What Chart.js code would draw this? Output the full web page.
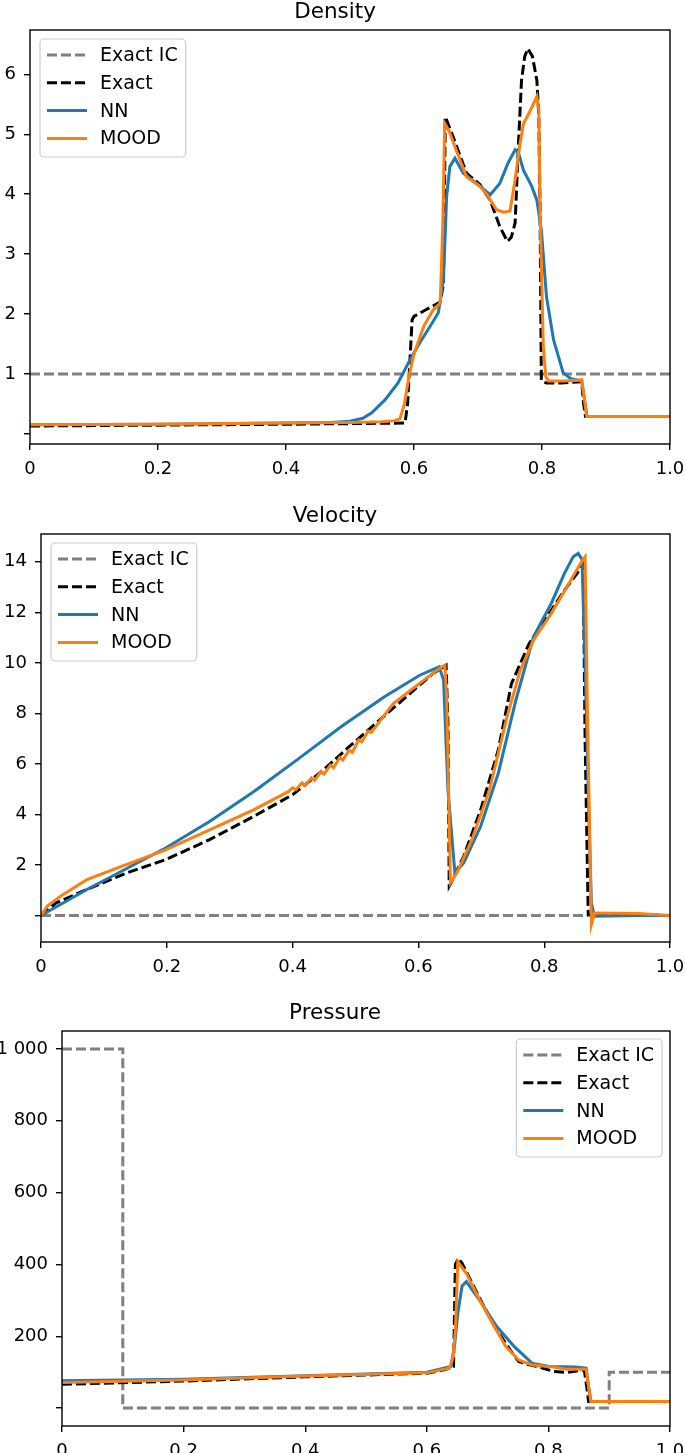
<!DOCTYPE html>
<html><head><meta charset="utf-8">
<script src="https://cdn.jsdelivr.net/npm/chart.js@4.4.0/dist/chart.umd.min.js"></script>
<style>
html,body{margin:0;padding:0;background:#fff;overflow:hidden;width:685px;height:1453px;position:relative;}
canvas{position:absolute;left:0;}
</style></head><body>
<canvas id="c1" width="685" height="480" style="top:0px"></canvas>
<canvas id="c2" width="685" height="488" style="top:490px"></canvas>
<canvas id="c3" width="685" height="482" style="top:980px"></canvas>
<script>
// ---------- shared axis ticks ----------
const xTicks = [0, 0.2, 0.4, 0.6, 0.8, 1.0];
const xTickLabels = ['0', '0.2', '0.4', '0.6', '0.8', '1.0'];
const seriesLabels = ['Exact IC', 'Exact', 'NN', 'MOOD'];

// ---------- Density ----------
const densityTicks = [0, 1, 2, 3, 4, 5, 6];
const densityTickLabels = ['', '1', '2', '3', '4', '5', '6'];
const densityICx = [0, 1];
const densityICy = [1, 1];
const densityExactX = [0, 0.2, 0.4, 0.5, 0.586, 0.59, 0.597, 0.6, 0.62, 0.641, 0.646, 0.649, 0.661, 0.682, 0.703, 0.719, 0.734, 0.746, 0.752, 0.758, 0.763, 0.768, 0.773, 0.778, 0.785, 0.792, 0.795, 0.797, 0.799, 0.803, 0.807, 0.83, 0.862, 0.865, 0.868, 0.9, 1.0];
const densityExactY = [0.13, 0.145, 0.16, 0.17, 0.18, 0.5, 1.9, 1.96, 2.08, 2.2, 2.5, 5.29, 4.96, 4.35, 4.16, 3.9, 3.46, 3.21, 3.28, 3.52, 4.79, 5.9, 6.3, 6.43, 6.3, 5.9, 5.3, 3.68, 0.9, 0.86, 0.85, 0.85, 0.87, 0.5, 0.29, 0.29, 0.29];
const densityMoodX = [0, 0.2, 0.4, 0.5, 0.55, 0.57, 0.578, 0.585, 0.592, 0.599, 0.607, 0.615, 0.63, 0.641, 0.645, 0.648, 0.655, 0.664, 0.682, 0.703, 0.714, 0.729, 0.74, 0.75, 0.758, 0.765, 0.771, 0.781, 0.792, 0.795, 0.797, 0.802, 0.806, 0.81, 0.835, 0.862, 0.866, 0.87, 0.9, 1.0];
const densityMoodY = [0.15, 0.16, 0.18, 0.19, 0.2, 0.22, 0.25, 0.5, 0.95, 1.29, 1.55, 1.79, 2.07, 2.18, 3.5, 5.18, 5.05, 4.79, 4.29, 4.13, 3.99, 3.74, 3.7, 3.72, 4.24, 4.8, 5.18, 5.38, 5.63, 5.4, 3.69, 1.46, 0.95, 0.88, 0.88, 0.9, 0.6, 0.29, 0.29, 0.29];
const densityNNx = [0, 0.2, 0.4, 0.47, 0.5, 0.52, 0.534, 0.555, 0.575, 0.594, 0.609, 0.625, 0.638, 0.646, 0.651, 0.656, 0.664, 0.677, 0.698, 0.719, 0.734, 0.747, 0.758, 0.763, 0.771, 0.784, 0.792, 0.799, 0.807, 0.818, 0.833, 0.845, 0.862, 0.866, 0.87, 0.9, 1.0];
const densityNNy = [0.15, 0.16, 0.18, 0.19, 0.21, 0.26, 0.35, 0.57, 0.85, 1.24, 1.52, 1.79, 2.02, 2.57, 3.96, 4.46, 4.6, 4.35, 4.18, 3.99, 4.18, 4.52, 4.74, 4.7, 4.4, 4.13, 3.9, 3.4, 2.29, 1.57, 1.02, 0.92, 0.88, 0.6, 0.29, 0.29, 0.29];

// ---------- Velocity ----------
const velocityTicks = [0, 2, 4, 6, 8, 10, 12, 14];
const velocityTickLabels = ['', '2', '4', '6', '8', '10', '12', '14'];
const velocityICx = [0, 1];
const velocityICy = [0, 0];
const velocityExactX = [0, 0.024, 0.073, 0.136, 0.198, 0.268, 0.338, 0.4, 0.449, 0.49, 0.532, 0.581, 0.623, 0.638, 0.644, 0.647, 0.649, 0.652, 0.672, 0.699, 0.727, 0.748, 0.762, 0.776, 0.804, 0.832, 0.852, 0.859, 0.862, 0.865, 0.87, 0.9, 1.0];
const velocityExactY = [0, 0.5, 1.03, 1.68, 2.21, 3.0, 3.92, 4.78, 5.76, 6.68, 7.6, 8.66, 9.58, 9.8, 9.9, 7.6, 1.16, 1.3, 2.34, 4.18, 6.55, 9.18, 9.97, 10.76, 11.8, 12.87, 13.53, 13.8, 13.9, 7, 0.04, 0.02, 0];
const velocityMoodX = [0, 0.01, 0.031, 0.073, 0.129, 0.198, 0.268, 0.338, 0.393, 0.4, 0.405, 0.415, 0.42, 0.43, 0.435, 0.445, 0.45, 0.46, 0.465, 0.475, 0.48, 0.49, 0.495, 0.505, 0.51, 0.52, 0.525, 0.56, 0.609, 0.637, 0.642, 0.645, 0.651, 0.661, 0.685, 0.713, 0.741, 0.762, 0.783, 0.811, 0.839, 0.859, 0.865, 0.869, 0.875, 0.88, 0.95, 1.0];
const velocityMoodY = [0, 0.37, 0.76, 1.42, 1.95, 2.6, 3.39, 4.18, 4.9, 5.05, 4.98, 5.25, 5.15, 5.45, 5.35, 5.7, 5.6, 5.95, 5.85, 6.25, 6.15, 6.55, 6.45, 6.95, 6.88, 7.3, 7.25, 8.39, 9.32, 9.84, 9.9, 8.66, 1.29, 1.68, 3.0, 4.97, 7.87, 9.71, 10.9, 11.95, 13.13, 13.99, 14.2, 7.6, -0.36, 0.1, 0.08, 0.0];
const velocityNNx = [0, 0.073, 0.143, 0.198, 0.268, 0.338, 0.407, 0.477, 0.546, 0.602, 0.633, 0.64, 0.647, 0.658, 0.672, 0.699, 0.727, 0.755, 0.783, 0.811, 0.832, 0.846, 0.854, 0.86, 0.865, 0.87, 0.875, 0.88, 0.95, 1.0];
const velocityNNy = [0, 1.03, 1.95, 2.67, 3.72, 4.9, 6.16, 7.47, 8.66, 9.51, 9.84, 9.32, 4.97, 1.68, 2.08, 3.53, 5.63, 8.53, 11.03, 12.34, 13.53, 14.2, 14.33, 14.1, 10, 4.97, 0.5, -0.03, 0, 0];

// ---------- Pressure ----------
const pressureTicks = [0, 200, 400, 600, 800, 1000];
const pressureTickLabels = ['', '200', '400', '600', '800', '1 000'];
const pressureICx = [0, 0.1, 0.1, 0.9, 0.9, 1.0];
const pressureICy = [1000, 1000, 0.01, 0.01, 100, 100];
const pressureExactX = [0, 0.2, 0.4, 0.6, 0.63, 0.644, 0.647, 0.652, 0.658, 0.672, 0.694, 0.715, 0.737, 0.751, 0.765, 0.78, 0.809, 0.83, 0.859, 0.863, 0.866, 0.9, 1.0];
const pressureExactY = [66, 75, 87, 97, 107, 116, 400, 417, 403, 356, 282, 218, 162, 130, 122, 116, 102, 99, 106, 60, 18.5, 18.5, 18.5];
const pressureMoodX = [0, 0.2, 0.4, 0.6, 0.637, 0.643, 0.647, 0.651, 0.665, 0.687, 0.708, 0.73, 0.751, 0.773, 0.801, 0.83, 0.862, 0.866, 0.87, 0.9, 1.0];
const pressureMoodY = [71, 78, 89, 98, 111, 140, 218, 407, 375, 301, 236, 171, 134, 120, 116, 108, 108, 60, 18.5, 18.5, 18.5];
const pressureNNx = [0, 0.2, 0.4, 0.6, 0.64, 0.646, 0.651, 0.658, 0.665, 0.687, 0.715, 0.744, 0.773, 0.801, 0.844, 0.862, 0.866, 0.87, 0.9, 1.0];
const pressureNNy = [76, 80, 90, 100, 116, 180, 264, 340, 352, 300, 227, 171, 125, 116, 114, 111, 60, 18.5, 18.5, 18.5];

// ---------- styling ----------
const FONT = '"DejaVu Sans", "Liberation Sans", sans-serif';
const LINE_W = 3;
const seriesStyle = [
  { color: '#808080', dash: [10, 4], order: 4 },
  { color: '#000000', dash: [10, 4], order: 3 },
  { color: '#1f77b4', dash: [], order: 2 },
  { color: '#ff7f0e', dash: [], order: 1 }
];

function zip(xs, ys) { return xs.map((x, i) => ({ x: x, y: ys[i] })); }

const framePlugin = {
  id: 'frameLegend',
  afterDatasetsDraw(chart) {
    const ctx = chart.ctx, a = chart.chartArea;
    ctx.save();
    ctx.strokeStyle = '#000';
    ctx.lineWidth = 1.4;
    ctx.strokeRect(a.left, a.top, a.right - a.left, a.bottom - a.top);
    ctx.restore();
  },
  afterDraw(chart, args, o) {
    const ctx = chart.ctx, a = chart.chartArea;
    const ds = chart.data.datasets;
    ctx.save();
    ctx.font = o.fontSize + 'px ' + FONT;
    const tw = Math.max(...ds.map(d => ctx.measureText(d.label).width));
    const w = o.padL + o.handle + o.gap + tw + o.padR;
    const h = o.height;
    const x = o.side === 'right' ? a.right - o.dx - w : a.left + o.dx;
    const y = a.top + o.dy;
    const r = 4;
    ctx.beginPath();
    ctx.moveTo(x + r, y);
    ctx.arcTo(x + w, y, x + w, y + h, r);
    ctx.arcTo(x + w, y + h, x, y + h, r);
    ctx.arcTo(x, y + h, x, y, r);
    ctx.arcTo(x, y, x + w, y, r);
    ctx.closePath();
    ctx.fillStyle = 'rgba(255,255,255,0.8)';
    ctx.fill();
    ctx.strokeStyle = '#cccccc';
    ctx.lineWidth = 1.2;
    ctx.stroke();
    ds.forEach((d, i) => {
      const cy = y + o.firstRow + i * o.rowGap;
      ctx.beginPath();
      ctx.setLineDash(d.borderDash || []);
      ctx.strokeStyle = d.borderColor;
      ctx.lineWidth = d.borderWidth;
      ctx.moveTo(x + o.padL, cy);
      ctx.lineTo(x + o.padL + o.handle, cy);
      ctx.stroke();
      ctx.setLineDash([]);
      ctx.fillStyle = '#000';
      ctx.textBaseline = 'middle';
      ctx.textAlign = 'left';
      ctx.fillText(d.label, x + o.padL + o.handle + o.gap, cy + 1);
    });
    ctx.restore();
  }
};

const PLOT_RIGHT = 670;

function makeChart(id, cfg) {
  const datasets = cfg.series.map((s, i) => ({
    label: seriesLabels[i],
    data: zip(s[0], s[1]),
    borderColor: seriesStyle[i].color,
    borderDash: seriesStyle[i].dash,
    borderWidth: LINE_W,
    pointRadius: 0,
    tension: 0,
    fill: false,
    order: seriesStyle[i].order
  }));
  const chart = new Chart(document.getElementById(id), {
    type: 'line',
    data: { datasets: datasets },
    plugins: [framePlugin],
    options: {
      responsive: false,
      animation: false,
      devicePixelRatio: 1,
      layout: { padding: { left: 0, right: 685 - PLOT_RIGHT, top: 0, bottom: 0 } },
      plugins: {
        legend: { display: false },
        tooltip: { enabled: false },
        title: {
          display: true, text: cfg.title, color: '#000',
          font: { family: FONT, size: 21.5, weight: 'normal', lineHeight: 1.2 },
          padding: { top: cfg.titleTop, bottom: cfg.titleBottom }
        },
        frameLegend: Object.assign({ fontSize: 19, padL: 7, handle: 40, gap: 13, padR: 8, height: 118, firstRow: 16, rowGap: 27.8 }, cfg.legend)
      },
      scales: {
        x: {
          type: 'linear', min: 0, max: 1,
          afterBuildTicks: s => { s.ticks = xTicks.map(v => ({ value: v })); },
          afterFit: s => { s.height = 36; s.paddingLeft = 0; s.paddingRight = 0; },
          ticks: { callback: (v, i) => xTickLabels[i], color: '#000', font: { family: FONT, size: 18 }, padding: 9, maxRotation: 0, autoSkip: false },
          grid: { display: true, drawOnChartArea: false, drawTicks: true, tickLength: 6, color: '#000', lineWidth: 1.4 },
          border: { display: false }
        },
        y: {
          type: 'linear', min: cfg.ymin, max: cfg.ymax,
          afterBuildTicks: s => { s.ticks = cfg.yTicks.map(v => ({ value: v })); },
          afterFit: s => { s.width = cfg.yWidth; s.paddingTop = 0; s.paddingBottom = 0; },
          ticks: { callback: (v, i) => cfg.yLabels[i], color: '#000', font: { family: FONT, size: 18 }, padding: 8, autoSkip: false },
          grid: { display: true, drawOnChartArea: false, drawTicks: true, tickLength: 6, color: '#000', lineWidth: 1.4 },
          border: { display: false }
        }
      }
    }
  });
  // correct the layout so the plot's right edge lands where the reference has it
  const diff = PLOT_RIGHT - chart.chartArea.right;
  if (Math.abs(diff) > 0.5) {
    chart.options.layout.padding.right = Math.max(0, chart.options.layout.padding.right - diff);
    chart.update();
  }
  return chart;
}

makeChart('c1', {
  title: 'Density', titleTop: 0, titleBottom: 4.2,
  ymin: -0.17, ymax: 6.74, yTicks: densityTicks, yLabels: densityTickLabels, yWidth: 30,
  legend: { side: 'left', dx: 10, dy: 9 },
  series: [[densityICx, densityICy], [densityExactX, densityExactY], [densityNNx, densityNNy], [densityMoodX, densityMoodY]]
});
makeChart('c2', {
  title: 'Velocity', titleTop: 13.6, titleBottom: 4.6,
  ymin: -1.05, ymax: 15.1, yTicks: velocityTicks, yLabels: velocityTickLabels, yWidth: 41,
  legend: { side: 'left', dx: 10, dy: 9 },
  series: [[velocityICx, velocityICy], [velocityExactX, velocityExactY], [velocityNNx, velocityNNy], [velocityMoodX, velocityMoodY]]
});
makeChart('c3', {
  title: 'Pressure', titleTop: 20.8, titleBottom: 4.4,
  ymin: -50, ymax: 1050, yTicks: pressureTicks, yLabels: pressureTickLabels, yWidth: 62,
  legend: { side: 'right', dx: 8, dy: 8 },
  series: [[pressureICx, pressureICy], [pressureExactX, pressureExactY], [pressureNNx, pressureNNy], [pressureMoodX, pressureMoodY]]
});
</script>
</body></html>
